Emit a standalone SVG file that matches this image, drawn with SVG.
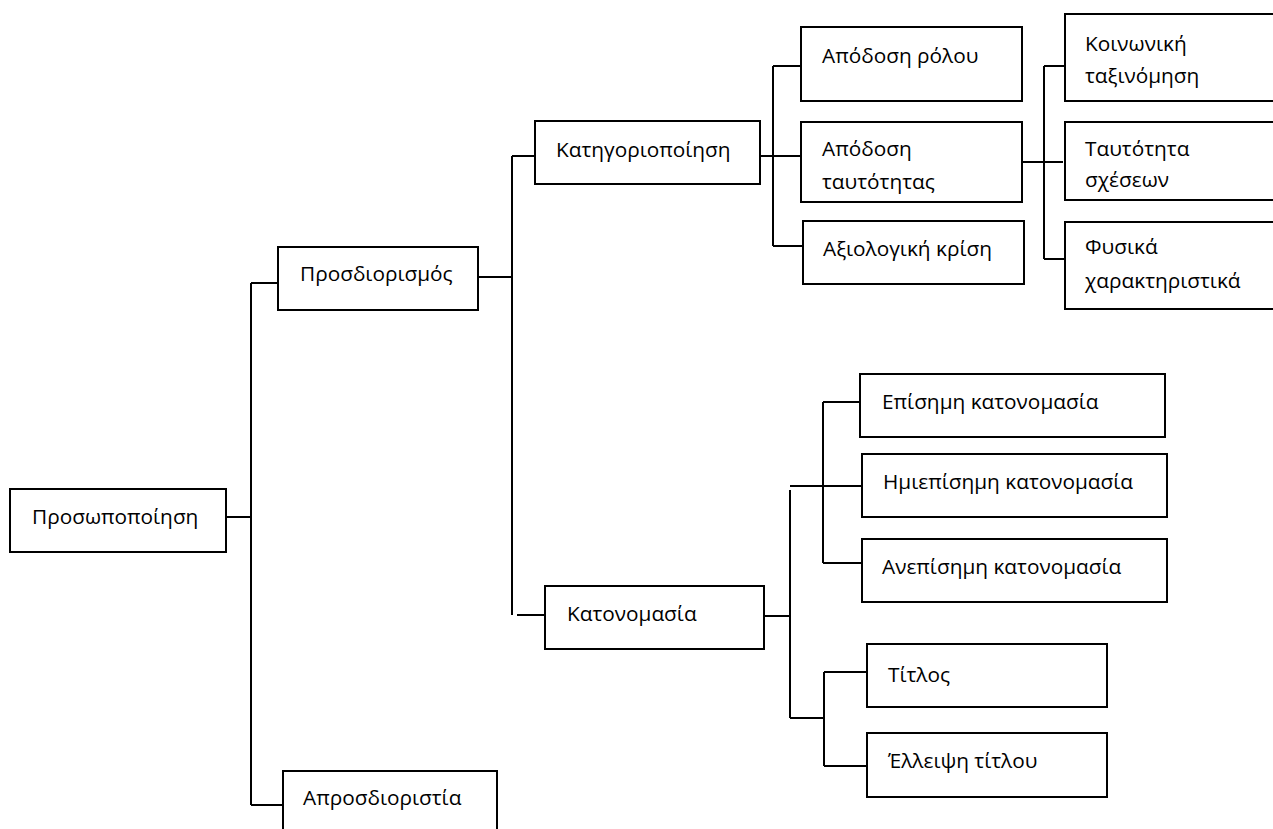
<svg xmlns="http://www.w3.org/2000/svg" width="1273" height="829" viewBox="0 0 1273 829">
<style>
rect{fill:#fff;stroke:#000;stroke-width:2}
text{font-family:"Open Sans","Noto Sans",sans-serif;font-size:20.8px;fill:#000}
#connectors path{fill:none;stroke:#000;stroke-width:2}
</style>
<rect x="0" y="0" width="1273" height="829" style="stroke:none"/>
<g id="connectors">
<path d="M226,517 H251 M251,283 V805 M251,283 H278 M251,805 H283"/>
<path d="M478,277 H512 M512,156 V615 M512,156 H535 M517,615 H545"/>
<path d="M760,156 H801 M773,66 V246 M773,66 H801 M773,246 H803"/>
<path d="M1022,162 H1063 M1044,66 V259 M1044,66 H1065 M1044,259 H1065"/>
<path d="M764,616 H790 M790,490 V718 M790,486 H862 M823,402 V563 M823,402 H860 M823,563 H862"/>
<path d="M790,718 H824 M824,672 V766 M824,672 H867 M824,766 H867"/>
</g>
<g id="n-prosopopoiisi"><rect x="10" y="489" width="216" height="63"/><text x="32" y="524">Προσωποποίηση</text></g>
<g id="n-prosdiorismos"><rect x="278" y="247" width="200" height="63"/><text x="300" y="281">Προσδιορισμός</text></g>
<g id="n-aprosdioristia"><rect x="283" y="771" width="214" height="70"/><text x="303" y="805">Απροσδιοριστία</text></g>
<g id="n-katigoriopoiisi"><rect x="535" y="121" width="225" height="63"/><text x="556" y="157">Κατηγοριοποίηση</text></g>
<g id="n-katonomasia"><rect x="545" y="586" width="219" height="63"/><text x="567" y="621">Κατονομασία</text></g>
<g id="n-apodosi-rolou"><rect x="801" y="27" width="221" height="74"/><text x="822" y="63">Απόδοση ρόλου</text></g>
<g id="n-apodosi-tautotitas"><rect x="801" y="122" width="221" height="80"/><text x="822" y="156">Απόδοση</text><text x="822" y="189">ταυτότητας</text></g>
<g id="n-axiologiki"><rect x="803" y="221" width="221" height="63"/><text x="823" y="256">Αξιολογική κρίση</text></g>
<g id="n-koinoniki"><rect x="1065" y="14" width="230" height="87"/><text x="1085" y="51">Κοινωνική</text><text x="1085" y="83">ταξινόμηση</text></g>
<g id="n-tautotita-sxeseon"><rect x="1065" y="122" width="230" height="78"/><text x="1085" y="156">Ταυτότητα</text><text x="1085" y="187">σχέσεων</text></g>
<g id="n-fysika"><rect x="1065" y="222" width="230" height="87"/><text x="1085" y="254">Φυσικά</text><text x="1085" y="288">χαρακτηριστικά</text></g>
<g id="n-episimi"><rect x="860" y="374" width="305" height="63"/><text x="882" y="409">Επίσημη κατονομασία</text></g>
<g id="n-imiepisimi"><rect x="862" y="454" width="305" height="63"/><text x="883" y="489">Ημιεπίσημη κατονομασία</text></g>
<g id="n-anepisimi"><rect x="862" y="539" width="305" height="63"/><text x="882" y="574">Ανεπίσημη κατονομασία</text></g>
<g id="n-titlos"><rect x="867" y="644" width="240" height="63"/><text x="888" y="682">Τίτλος</text></g>
<g id="n-elleipsi"><rect x="867" y="733" width="240" height="64"/><text x="888" y="768">Έλλειψη τίτλου</text></g>
</svg>
